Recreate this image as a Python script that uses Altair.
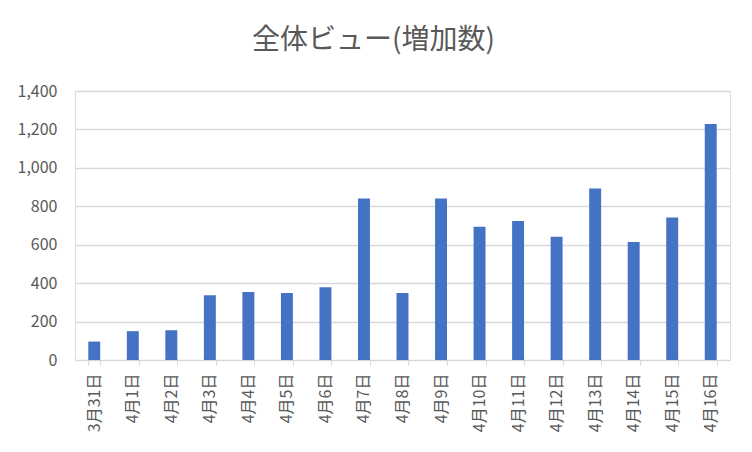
import altair as alt
import pandas as pd

dates = ["3月31日", "4月1日", "4月2日", "4月3日", "4月4日", "4月5日", "4月6日",
         "4月7日", "4月8日", "4月9日", "4月10日", "4月11日", "4月12日", "4月13日",
         "4月14日", "4月15日", "4月16日"]
values = [96, 150, 155, 337, 354, 349, 378, 840, 349, 840, 694, 724, 642, 893,
          614, 741, 1228]

df = pd.DataFrame({"date": dates, "value": values})

FONT = "Noto Sans CJK JP"
GRAY = "#595959"

chart = alt.Chart(df).mark_bar(color="#4472C4").encode(
    x=alt.X("date:N", sort=dates, title=None,
            scale=alt.Scale(paddingInner=0.69, paddingOuter=0.345),
            axis=alt.Axis(labelAngle=-90, labelFontSize=16, labelColor=GRAY,
                          labelFont=FONT, tickBand="extent", tickColor="#d9d9d9",
                          tickSize=5, domainColor="#d9d9d9", labelPadding=8,
                          grid=False)),
    y=alt.Y("value:Q", title=None,
            scale=alt.Scale(domain=[0, 1400]),
            axis=alt.Axis(values=[0, 200, 400, 600, 800, 1000, 1200, 1400],
                          format=",.0f", labelFontSize=16, labelColor=GRAY,
                          labelFont=FONT, domain=False, ticks=False,
                          gridColor="#d9d9d9", gridWidth=1.3, labelPadding=18)),
).properties(
    width=655,
    height=269,
    title=alt.TitleParams("全体ビュー(増加数)", fontSize=28, font=FONT,
                          fontWeight="normal", color=GRAY, anchor="middle",
                          frame="bounds", offset=28),
    autosize=alt.AutoSizeParams(type="none"),
    padding={"left": 67, "top": 83, "right": 14, "bottom": 80},
).configure_view(stroke=None).configure(background="white")

chart.save("out.html", embed_options={"renderer": "svg", "actions": False})
